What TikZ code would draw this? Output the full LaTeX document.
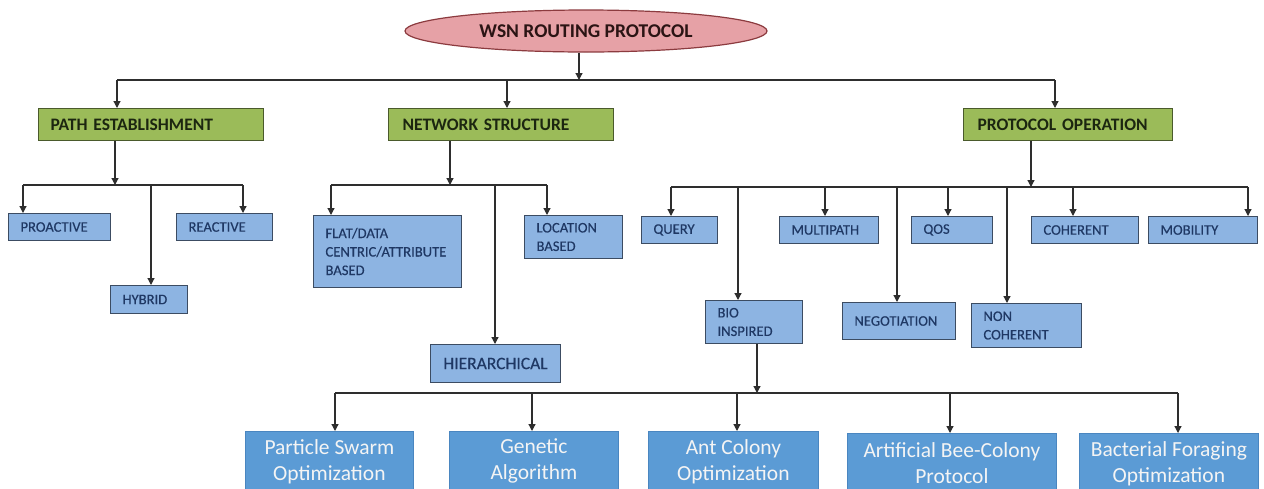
\documentclass[tikz,border=0pt]{standalone}
\usepackage{fontspec}
\setmainfont{Carlito}
\newfontfamily\boxfont[FakeBold=0.4]{Carlito}
\usetikzlibrary{arrows.meta,shapes.geometric}

\definecolor{rootfill}{HTML}{E6A1A6}
\definecolor{rootline}{HTML}{8C3B3F}
\definecolor{roottext}{HTML}{2B1414}
\definecolor{gfill}{HTML}{9BBB59}
\definecolor{gline}{HTML}{4A5A2C}
\definecolor{gtext}{HTML}{1C2610}
\definecolor{bfill}{HTML}{8DB4E2}
\definecolor{bline}{HTML}{3C4C62}
\definecolor{btext}{HTML}{1F3864}
\definecolor{dfill}{HTML}{5B9BD5}
\definecolor{dline}{HTML}{4A86C0}
\definecolor{dtext}{HTML}{F4F4F4}
\definecolor{linec}{HTML}{2E2E2E}

\begin{document}
\begin{tikzpicture}[x=1pt,y=-1pt,
  rootnode/.style={ellipse, draw=rootline, fill=rootfill, line width=1.2pt,
    minimum width=362pt, minimum height=42pt, inner sep=0pt,
    font=\bfseries\fontsize{19.5}{22}\selectfont, text=roottext},
  gbox/.style={draw=gline, fill=gfill, line width=1pt, anchor=north west,
    minimum height=32pt, inner xsep=12pt, inner ysep=0pt, align=left,
    font=\bfseries\fontsize{17.5}{20}\selectfont, text=gtext},
  lbox/.style={draw=bline, fill=bfill, line width=1pt, anchor=north west,
    inner xsep=12pt, inner ysep=0pt, align=left,
    font=\boxfont\fontsize{14.6}{18.5}\selectfont, text=btext},
  dbox/.style={draw=dline, fill=dfill, line width=0.8pt, anchor=north west,
    minimum height=60pt, inner sep=0pt, align=center,
    font=\fontsize{21.5}{26}\selectfont, text=dtext},
  link/.style={draw=linec, line width=1.2pt},
  arr/.style={link, -{Triangle[length=7pt,width=7pt]}}]

\useasboundingbox (0,0) rectangle (1264,488);
\fill[white] (0,0) rectangle (1264,488);
\clip (0,0) rectangle (1264,488);

% root
\node[rootnode] (root) at (586,31) {WSN ROUTING PROTOCOL};

% first level
\node[gbox, text width=201pt] (pe) at (38,108) {PATH ESTABLISHMENT};
\node[gbox, inner xsep=14pt, text width=197pt] (ns) at (388,108) {NETWORK STRUCTURE};
\node[gbox, inner xsep=14pt, text width=181pt] (po) at (963,108) {PROTOCOL OPERATION};

% path establishment children
\node[lbox, text width=78pt, minimum height=27pt] (pro) at (8,213) {PROACTIVE};
\node[lbox, text width=72pt, minimum height=27pt] (rea) at (176,213) {REACTIVE};
\node[lbox, text width=53pt, minimum height=28pt] (hyb) at (110,285) {HYBRID};

% network structure children
\node[lbox, text width=124pt, minimum height=72pt] (flat) at (313,215) {FLAT/DATA\\CENTRIC/ATTRIBUTE\\BASED};
\node[lbox, text width=74pt, minimum height=43pt] (loc) at (524,215) {LOCATION\\BASED};
\node[lbox, align=center, inner xsep=0pt, text width=130pt, minimum height=38pt,
  font=\boxfont\fontsize{17.5}{20}\selectfont] (hie) at (430,344) {HIERARCHICAL};

% protocol operation children
\node[lbox, text width=52pt, minimum height=27pt] (qry) at (641,216) {QUERY};
\node[lbox, text width=75pt, minimum height=27pt] (mul) at (779,216) {MULTIPATH};
\node[lbox, text width=57pt, minimum height=27pt] (qos) at (911,216) {QOS};
\node[lbox, text width=83pt, minimum height=27pt] (coh) at (1031,216) {COHERENT};
\node[lbox, text width=85pt, minimum height=27pt] (mob) at (1148,216) {MOBILITY};
\node[lbox, text width=73pt, minimum height=43pt] (bio) at (705,300) {BIO\\INSPIRED};
\node[lbox, text width=89pt, minimum height=37pt] (neg) at (842,302) {NEGOTIATION\\[14pt]};
\node[lbox, text width=86pt, minimum height=44pt] (nco) at (971,303) {NON\\COHERENT};

% bio-inspired children
\node[dbox, minimum width=168pt] (pso) at (245,431) {Particle Swarm\\Optimization};
\node[dbox, minimum width=169pt] (ga)  at (449,431) {Genetic\\Algorithm};
\node[dbox, minimum width=170pt] (aco) at (648,431) {Ant Colony\\Optimization};
\node[dbox, minimum width=209pt] (abc) at (847,433) {Artificial Bee-Colony\\Protocol};
\node[dbox, minimum width=179pt] (bfo) at (1079,433) {Bacterial Foraging\\Optimization};

% junction points
\coordinate (t0)  at (579,80);
\coordinate (t0L) at (117,80);
\coordinate (t0M) at (507,80);
\coordinate (t0R) at (1055,80);

\coordinate (p1)  at (115,185);
\coordinate (p1L) at (23,185);
\coordinate (p1H) at (151,185);
\coordinate (p1R) at (243,185);

\coordinate (n1)  at (450,185);
\coordinate (n1L) at (331,185);
\coordinate (n1H) at (495,185);
\coordinate (n1R) at (547,185);

\coordinate (o1)  at (1031,187);
\coordinate (o1a) at (671,187);
\coordinate (o1b) at (738,187);
\coordinate (o1c) at (825,187);
\coordinate (o1d) at (897,187);
\coordinate (o1e) at (948,187);
\coordinate (o1f) at (1007,187);
\coordinate (o1g) at (1073,187);
\coordinate (o1h) at (1248,187);

\coordinate (b1)  at (757,393);
\coordinate (b1a) at (335,393);
\coordinate (b1b) at (532,393);
\coordinate (b1c) at (737,393);
\coordinate (b1d) at (950,393);
\coordinate (b1e) at (1178,393);

% root to first level
\draw[arr] (root.south -| t0) -- (t0);
\draw[link] (t0L) -- (t0R);
\draw[arr] (t0L) -- (t0L |- pe.north);
\draw[arr] (t0M) -- (t0M |- ns.north);
\draw[arr] (t0R) -- (t0R |- po.north);

% path establishment
\draw[arr] (pe.south -| p1) -- (p1);
\draw[link] (p1L) -- (p1R);
\draw[arr] (p1L) -- (p1L |- pro.north);
\draw[arr] (p1H) -- (p1H |- hyb.north);
\draw[arr] (p1R) -- (p1R |- rea.north);

% network structure
\draw[arr] (ns.south -| n1) -- (n1);
\draw[link] (n1L) -- (n1R);
\draw[arr] (n1L) -- (n1L |- flat.north);
\draw[arr] (n1H) -- (n1H |- hie.north);
\draw[arr] (n1R) -- (n1R |- loc.north);

% protocol operation
\draw[arr] (po.south -| o1) -- (o1);
\draw[link] (o1a) -- (o1h);
\draw[arr] (o1a) -- (o1a |- qry.north);
\draw[arr] (o1b) -- (o1b |- bio.north);
\draw[arr] (o1c) -- (o1c |- mul.north);
\draw[arr] (o1d) -- (o1d |- neg.north);
\draw[arr] (o1e) -- (o1e |- qos.north);
\draw[arr] (o1f) -- (o1f |- nco.north);
\draw[arr] (o1g) -- (o1g |- coh.north);
\draw[arr] (o1h) -- (o1h |- mob.north);

% bio-inspired
\draw[arr] (bio.south -| b1) -- (b1);
\draw[link] (b1a) -- (b1e);
\draw[arr] (b1a) -- (b1a |- pso.north);
\draw[arr] (b1b) -- (b1b |- ga.north);
\draw[arr] (b1c) -- (b1c |- aco.north);
\draw[arr] (b1d) -- (b1d |- abc.north);
\draw[arr] (b1e) -- (b1e |- bfo.north);
\end{tikzpicture}
\end{document}
